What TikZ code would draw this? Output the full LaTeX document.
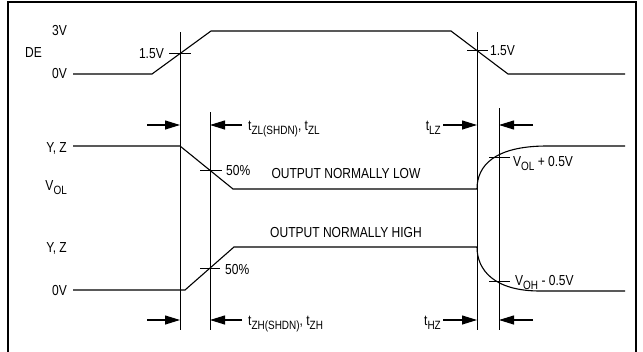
\documentclass[tikz,border=0pt]{standalone}
\usepackage{fontspec}
\setmainfont{Liberation Sans}[FakeStretch=0.83]
\usetikzlibrary{arrows.meta}
\newcommand\lowsub[1]{\raisebox{-4pt}{\fontsize{12}{13}\selectfont #1}}
\tikzset{
	lbl/.style={inner sep=0pt, font=\fontsize{14.5}{16}\selectfont},
	sig/.style={line width=1.1pt},
	marker/.style={line width=1pt},
	timearrow/.style={line width=1.1pt, -{Triangle[length=15pt,width=9pt]}},
}

\begin{document}
\begin{tikzpicture}[x=1pt,y=-1pt]
			%%%%% START %%%%%
			
			\useasboundingbox (0,0) rectangle (643,351);
			\draw[line width=2.5pt] (8,2) rectangle (636,354);
			
			% DE input
			\node[lbl, anchor=base west] (de) at (25,57) {DE};
			\node[lbl, anchor=base east] (de3v) at (67,35) {3V};
			\node[lbl, anchor=base east] (de0v) at (67,78) {0V};
			\draw[sig] (73,74) -- (152,74) -- (211,31) -- (451,31) -- (508,74) -- (625,74);
			
			\draw[marker] (180,32) -- (180,330);
			\draw[marker] (210,112) -- (210,330);
			\draw[marker] (477,32) -- (477,330);
			\draw[marker] (499,108) -- (499,330);
			
			\draw[marker] (169,53.6) -- (191,53.6);
			\node[lbl, anchor=base east] (devl) at (164,58) {1.5V};
			\draw[marker] (467,50.6) -- (488,50.6);
			\node[lbl, anchor=base west] (devr) at (490,55) {1.5V};
			
			% output normally low
			\draw[timearrow] (147,125) -- (180,125);
			\draw[timearrow] (242,125) -- (210,125);
			\node[lbl, anchor=base west] (tzl) at (248,130) {t\lowsub{ZL(SHDN)}, t\lowsub{ZL}};
			\draw[timearrow] (443,125) -- (477,125);
			\draw[timearrow] (533,125) -- (499,125);
			\node[lbl, anchor=base east] (tlz) at (441,130) {t\lowsub{LZ}};
			
			\node[lbl, anchor=base east] (yzlow) at (67,152) {Y, Z};
			\node[lbl, anchor=base east] (vol) at (67,190) {V\lowsub{OL}};
			\draw[sig] (73,146) -- (180,146) -- (233,189) -- (477,189) .. controls (477,166) and (494,146) .. (547,146) -- (625,146);
			\draw[marker] (200,170.3) -- (222,170.3);
			\node[lbl, anchor=base west] (pctlow) at (226,175) {50\%};
			\node[lbl, anchor=base] (normlow) at (346,178) {OUTPUT NORMALLY LOW};
			\draw[marker] (489,157) -- (510,157);
			\node[lbl, anchor=base west] (volr) at (513,166) {V\lowsub{OL} + 0.5V};
			
			% output normally high
			\node[lbl, anchor=base east] (yzhigh) at (67,252) {Y, Z};
			\node[lbl, anchor=base east] (out0v) at (67,295) {0V};
			\draw[sig] (73,290) -- (185,290) -- (234,247) -- (477,247) .. controls (477,270) and (494,291) .. (540,291) -- (625,291);
			\draw[marker] (200,268.1) -- (220,268.1);
			\node[lbl, anchor=base west] (pcthigh) at (225,274) {50\%};
			\node[lbl, anchor=base] (normhigh) at (346,237) {OUTPUT NORMALLY HIGH};
			\draw[marker] (489,281) -- (510,281);
			\node[lbl, anchor=base west] (vohr) at (515,285) {V\lowsub{OH} - 0.5V};
			
			\draw[timearrow] (147,320) -- (180,320);
			\draw[timearrow] (242,320) -- (210,320);
			\node[lbl, anchor=base west] (tzh) at (248,325) {t\lowsub{ZH(SHDN)}, t\lowsub{ZH}};
			\draw[timearrow] (443,320) -- (477,320);
			\draw[timearrow] (533,320) -- (499,320);
			\node[lbl, anchor=base east] (thz) at (441,325) {t\lowsub{HZ}};
			
			%%%%% END %%%%%
\end{tikzpicture}
\end{document}
